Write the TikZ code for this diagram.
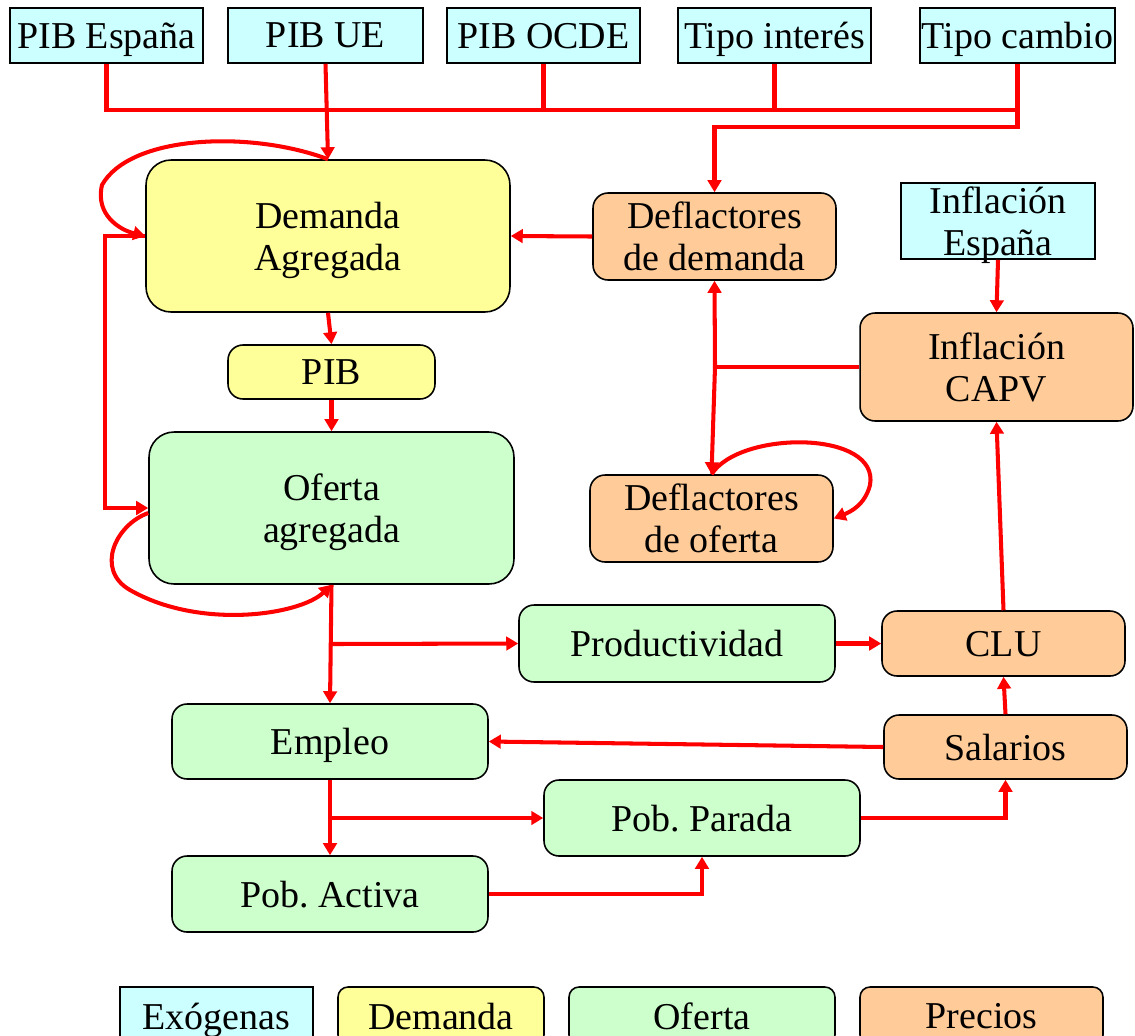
\documentclass[tikz,border=0pt]{standalone}
\usepackage{fontspec}
\setmainfont{Liberation Serif}
\frenchspacing
\usetikzlibrary{arrows.meta}
\definecolor{cexo}{HTML}{CCFFFF}
\definecolor{cdem}{HTML}{FFFF99}
\definecolor{cofe}{HTML}{CCFFCC}
\definecolor{cpre}{HTML}{FFCC99}
\definecolor{cred}{HTML}{FF0000}
\begin{document}
\begin{tikzpicture}[x=0.02cm,y=-0.02cm,
  box/.style={draw=black,line width=0.9pt,align=center,inner sep=0pt,text depth=-0.12cm,
    font=\fontsize{21.6}{23.8}\selectfont},
  exo/.style={box,fill=cexo},
  dem/.style={box,fill=cdem,rounded corners=0.3cm},
  ofe/.style={box,fill=cofe,rounded corners=0.3cm},
  pre/.style={box,fill=cpre,rounded corners=0.3cm},
  big/.style={rounded corners=0.5cm},
  conn/.style={draw=cred,line width=2.3pt},
  arr/.style={conn,-{Triangle[length=0.24cm,width=0.27cm]}}
]
\useasboundingbox (0,0) rectangle (1135,1035);
% exogenous
\node[exo,minimum width=3.86cm,minimum height=1.1cm] (pibes) at (106.5,35.5) {PIB España};
\node[exo,minimum width=3.9cm,minimum height=1.1cm] (pibue) at (325.5,35.5) {PIB UE};
\node[exo,minimum width=3.86cm,minimum height=1.1cm] (ocde) at (543.5,35.5) {PIB OCDE};
\node[exo,minimum width=3.86cm,minimum height=1.1cm] (tint) at (774.5,35.5) {Tipo interés};
\node[exo,minimum width=3.9cm,minimum height=1.1cm] (tcam) at (1017.5,35.5) {Tipo cambio};
\node[exo,minimum width=3.88cm,minimum height=1.52cm] (infes) at (998,221) {Inflación\\España};
% demand
\node[dem,big,minimum width=7.28cm,minimum height=3.04cm] (da) at (328,236) {Demanda\\Agregada};
\node[dem,minimum width=4.14cm,minimum height=1.08cm] (pib) at (331.5,372) {PIB};
% supply
\node[ofe,big,minimum width=7.3cm,minimum height=3.04cm] (of) at (331.5,508) {Oferta\\agregada};
\node[ofe,minimum width=6.32cm,minimum height=1.54cm] (prod) at (677,643.5) {Productividad};
\node[ofe,minimum width=6.32cm,minimum height=1.5cm] (emp) at (330,741.5) {Empleo};
\node[ofe,minimum width=6.32cm,minimum height=1.52cm] (pp) at (702,818) {Pob. Parada};
\node[ofe,minimum width=6.32cm,minimum height=1.52cm] (pa) at (330,894) {Pob. Activa};
% prices
\node[pre,minimum width=4.86cm,minimum height=1.74cm] (defdem) at (714.5,236.5) {Deflactores\\de demanda};
\node[pre,minimum width=5.46cm,minimum height=2.16cm] (capv) at (996.5,367) {Inflación\\CAPV};
\node[pre,minimum width=4.86cm,minimum height=1.74cm] (defof) at (711.5,518.5) {Deflactores\\de oferta};
\node[pre,minimum width=4.86cm,minimum height=1.3cm] (clu) at (1003.5,643.5) {CLU};
\node[pre,minimum width=4.86cm,minimum height=1.28cm] (sal) at (1005.5,747) {Salarios};
% legend
\node[exo,minimum width=3.86cm,minimum height=1.16cm] (lexo) at (216.5,1016) {Exógenas};
\node[dem,rounded corners=0.2cm,minimum width=4.12cm,minimum height=1.16cm] (ldem) at (441,1016) {Demanda};
\node[ofe,rounded corners=0.2cm,minimum width=5.32cm,minimum height=1.16cm] (lofe) at (702,1016) {Oferta};
\node[pre,rounded corners=0.2cm,minimum width=4.86cm,minimum height=1.16cm] (lpre) at (981.5,1016) {Precios};
% coordinates
\coordinate (busa) at (0,110);
\coordinate (busb) at (0,127);
\coordinate (jc) at (715,367);
\coordinate (jl) at (105,236);
\coordinate (j1) at (331,644);
\coordinate (j2) at (330,818);
% exogenous bus
\draw[conn] (pibes.south) |- (tcam.south |- busa);
\draw[conn] (ocde.south) -- (ocde.south |- busa);
\draw[conn] (tint.south) -- (tint.south |- busa);
\draw[arr] (tcam.south) -- (tcam.south |- busb) -| (defdem.north);
\draw[arr] (pibue.south) -- (da.north);
% demand loop
\draw[arr] (da.north) .. controls (250,130) and (130,135) .. (102,185)
  .. controls (95,215) and (120,230) .. (da.west);
\draw[arr] (da.west) -- (jl) |- (of.west);
\draw[arr] (da.south) -- (pib.north);
\draw[arr] (pib.south) -- (of.north);
% supply loop
\draw[arr] ([yshift=-0.1cm]of.west) .. controls (115,525) and (95,570) .. (130,590)
  .. controls (200,630) and (300,615) .. (of.south);
\draw[arr] (of.south) -- (emp.north);
\draw[arr] (j1) -- (prod.west);
\draw[arr] (prod.east) -- (clu.west);
\draw[arr] (clu.north) -- (capv.south);
\draw[arr] (sal.north) -- (clu.south);
\draw[arr] (sal.west) -- (emp.east);
\draw[arr] (emp.south) -- (pa.north);
\draw[arr] (j2) -- (pp.west);
\draw[arr] (pa.east) -| (pp.south);
\draw[arr] (pp.east) -| (sal.south);
\draw[arr] (infes.south) -- (capv.north);
\draw[conn] (capv.west) -- (jc);
\draw[arr] (jc) -- (defdem.south);
\draw[arr] (jc) -- (defof.north);
\draw[arr] (defof.north) .. controls (740,430) and (880,430) .. (870,485)
  .. controls (865,505) and (850,512) .. (defof.east);
\draw[arr] (defdem.west) -- (da.east);
\end{tikzpicture}
\end{document}
